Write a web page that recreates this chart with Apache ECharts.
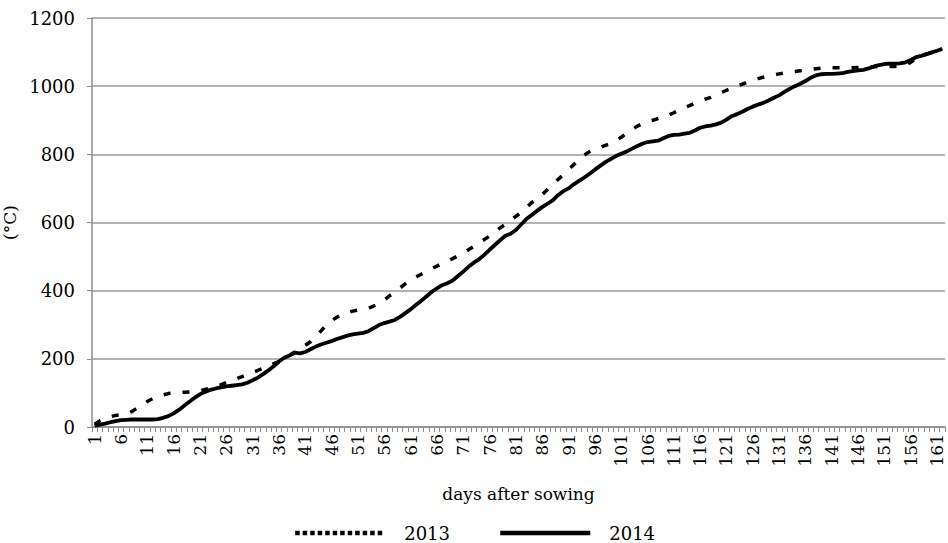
<!DOCTYPE html>
<html>
<head>
<meta charset="utf-8">
<script src="https://cdn.jsdelivr.net/npm/echarts@6/dist/echarts.min.js"></script>
<style>html,body{margin:0;padding:0;background:#fff}#c{width:948px;height:543px}</style>
</head>
<body>
<div id="c"></div>
<script>
const days = [];
for (let d = 1; d <= 162; d++) days.push(String(d));
const xLabelStep = 5;

const series2013 = [
8,18,25,30,34,36,38,45,55,65,
75,83,88,94,98,100,101,102,103,104,
106,110,114,118,124,130,136,142,148,154,
160,166,172,178,186,192,200,210,220,230,
240,250,265,282,300,312,322,330,336,340,
343,345,348,355,362,372,385,396,408,420,
430,440,448,456,464,472,480,487,494,502,
510,520,530,540,550,560,572,584,595,607,
618,630,644,658,670,682,697,712,726,740,
755,770,785,798,808,815,820,826,832,840,
850,862,872,882,890,896,900,905,910,915,
922,930,937,943,950,956,962,967,974,981,
988,994,1000,1006,1012,1018,1022,1026,1030,1033,
1036,1039,1041,1043,1045,1047,1049,1051,1053,1054,
1054,1054,1054,1054,1054,1055,1056,1056,1057,1058,
1058,1058,1058,1059,1062,1070,1082,1089,1094,1099,
1104,1110
];

const series2014 = [
3,7,10,14,17,20,21,22,22,22,
22,22,23,27,32,40,50,62,74,86,
96,103,109,113,116,119,121,123,125,130,
137,145,155,166,178,192,203,210,218,216,
220,228,236,242,247,252,258,263,268,272,
274,276,281,290,299,305,309,314,323,334,
345,358,370,383,396,407,416,422,430,443,
456,470,482,492,505,520,534,548,561,567,
578,594,610,622,634,645,655,665,680,692,
700,712,722,732,743,755,766,777,786,795,
802,808,816,824,831,836,838,840,847,854,
857,858,861,863,870,878,882,884,888,893,
902,912,918,925,933,940,946,951,958,966,
973,983,992,1000,1007,1015,1025,1032,1035,1036,
1036,1037,1038,1042,1044,1046,1048,1052,1058,1062,
1065,1066,1066,1067,1070,1077,1085,1089,1094,1099,
1104,1110
];

const seriesNames = ['2013', '2014'];
const yTicks = { min: 0, max: 1200, interval: 200 };

const font = 'DejaVu Serif';
const chart = echarts.init(document.getElementById('c'), null, { renderer: 'svg' });
chart.setOption({
  animation: false,
  backgroundColor: '#ffffff',
  textStyle: { fontFamily: font, color: '#000' },
  grid: { left: 92, right: 3, top: 18, bottom: 116, containLabel: false, outerBoundsMode: 'none' },
  legend: {
    top: 519,
    left: 'center',
    itemWidth: 90,
    itemHeight: 14,
    itemGap: 48,
    itemStyle: { opacity: 0 },
    textStyle: { fontFamily: font, fontSize: 18, color: '#000', padding: [0, 0, 0, 14] },
    data: [
      { name: seriesNames[0], lineStyle: { type: [4.5, 3], width: 4.5, color: '#000' } },
      { name: seriesNames[1], lineStyle: { type: 'solid', width: 4.5, color: '#000' } }
    ]
  },
  xAxis: {
    type: 'category',
    data: days,
    boundaryGap: true,
    name: 'days after sowing',
    nameLocation: 'middle',
    nameGap: 58,
    nameTextStyle: { fontFamily: font, fontSize: 17, color: '#000' },
    axisLine: { lineStyle: { color: '#8c8c8c', width: 1.5 } },
    axisTick: { show: true, interval: 0, length: 5, lineStyle: { color: '#8c8c8c', width: 1 } },
    axisLabel: { show: true, interval: xLabelStep - 1, rotate: 90, fontFamily: font, fontSize: 17, color: '#000', margin: 7 },
    splitLine: { show: false }
  },
  yAxis: {
    type: 'value',
    min: yTicks.min,
    max: yTicks.max,
    interval: yTicks.interval,
    name: '(°C)',
    nameLocation: 'middle',
    nameRotate: 90,
    nameGap: 55,
    nameTextStyle: { fontFamily: font, fontSize: 17, color: '#000' },
    axisLine: { show: true, lineStyle: { color: '#8c8c8c', width: 1.5 } },
    axisTick: { show: true, length: 5, lineStyle: { color: '#8c8c8c' } },
    axisLabel: { fontFamily: font, fontSize: 18, color: '#000', margin: 17, formatter: v => String(v) },
    splitLine: { show: true, lineStyle: { color: '#9a9a9a', width: 1.5 } }
  },
  series: [
    {
      name: seriesNames[0],
      type: 'line',
      data: series2013,
      symbol: 'none',
      showSymbol: false,
      itemStyle: { color: '#000' },
      lineStyle: { color: '#000', width: 3.5, type: [7, 12] },
      z: 3
    },
    {
      name: seriesNames[1],
      type: 'line',
      data: series2014,
      symbol: 'none',
      showSymbol: false,
      itemStyle: { color: '#000' },
      lineStyle: { color: '#000', width: 3.8, type: 'solid' },
      z: 2
    }
  ]
});
</script>
</body>
</html>
